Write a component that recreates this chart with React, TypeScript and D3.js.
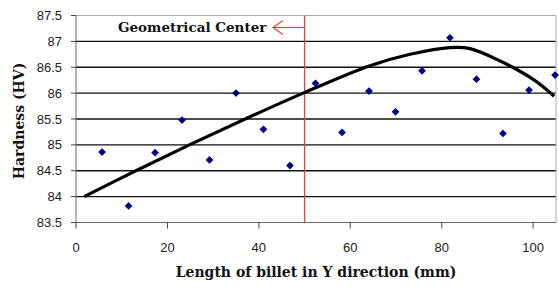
import React from 'react';
import * as d3 from 'd3';

// measured hardness along the billet
const posX = [5.7, 11.5, 17.3, 23.2, 29.2, 35, 41, 46.8, 52.4, 58.2, 64.1, 69.9, 75.7, 81.8, 87.6, 93.4, 99.1, 104.8];
const hardness = [84.86, 83.82, 84.85, 85.48, 84.71, 86.0, 85.3, 84.6, 86.19, 85.24, 86.04, 85.64, 86.43, 87.07, 86.27, 85.22, 86.06, 86.35];

// fitted trend curve
const trendX = [1.8, 13.1, 24.8, 37, 49.7, 64.3, 73.1, 81.8, 86.2, 92.8, 100.1, 104.6];
const trendY = [84.0, 84.5, 85.0, 85.5, 86.0, 86.53, 86.75, 86.88, 86.86, 86.62, 86.26, 85.94];

const xTicks = [0, 20, 40, 60, 80, 100];
const yTicks = [83.5, 84, 84.5, 85, 85.5, 86, 86.5, 87, 87.5];
const centerX = 50;

const W = 559;
const H = 289;
const left = 76, right = 556, top = 15.5, bottom = 222.5;

const App = () => {
    const x = d3.scaleLinear().domain([0, 105]).range([left, right]);
    const y = d3.scaleLinear().domain([83.5, 87.5]).range([bottom, top]);

    const line = d3
        .line<number>()
        .x((d, i) => x(trendX[i]))
        .y(d => y(d))
        .curve(d3.curveCatmullRom.alpha(0.5));

    const diamond = d3.symbol().type(d3.symbolSquare).size(30)();

    const serif = '"DejaVu Serif", serif';
    const sans = '"Liberation Sans", Arial, sans-serif';
    const red = '#f03c3c';

    return (
        <svg width={W} height={H} style={{ position: 'absolute', left: 0, top: 0 }}>
            <rect x={0} y={0} width={W} height={H} fill="white" />

            {/* gridlines */}
            {yTicks.slice(1, -1).map(t => (
                <line key={t} x1={left} x2={right} y1={y(t)} y2={y(t)} stroke="#111" strokeWidth={1.3} />
            ))}
            {/* frame */}
            <line x1={left} x2={right} y1={top} y2={top} stroke="#aaa" />
            <line x1={right} x2={right} y1={top} y2={bottom} stroke="#aaa" />
            <line x1={left} x2={left} y1={top} y2={bottom} stroke="#666" />
            <line x1={left} x2={right} y1={bottom} y2={bottom} stroke="#666" />

            {/* y ticks */}
            {yTicks.map(t => (
                <g key={t}>
                    <line x1={left - 5} x2={left} y1={y(t)} y2={y(t)} stroke="#444" />
                    <text x={62} y={y(t)} dy="0.35em" textAnchor="end" fontFamily={sans} fontSize={13} fill="#222">
                        {t}
                    </text>
                </g>
            ))}
            {/* x ticks */}
            {xTicks.map(t => (
                <g key={t}>
                    <line x1={x(t)} x2={x(t)} y1={bottom} y2={bottom + 6} stroke="#444" />
                    <text x={x(t)} y={252} textAnchor="middle" fontFamily={sans} fontSize={13} fill="#222">
                        {t}
                    </text>
                </g>
            ))}

            {/* geometrical center marker */}
            <line x1={x(centerX)} x2={x(centerX)} y1={top} y2={bottom} stroke={red} strokeWidth={1.3} />
            <line x1={273} x2={x(centerX)} y1={27.5} y2={27.5} stroke={red} strokeWidth={1.2} />
            <path d="M283,20.5 L273,27.5 L283,34.5" fill="none" stroke={red} strokeWidth={1.2} />
            <text x={118} y={32} fontFamily={serif} fontWeight="bold" fontSize={13.5} fill="#111">
                Geometrical Center
            </text>

            {/* trend curve */}
            <path d={line(trendY) || ''} fill="none" stroke="black" strokeWidth={3.2} />

            {/* points */}
            {hardness.map((v, i) => (
                <path key={i} d={diamond || ''} transform={`translate(${x(posX[i])},${y(v)}) rotate(45)`} fill="#000088" />
            ))}

            {/* axis titles */}
            <text
                transform="translate(24,121) rotate(-90)"
                textAnchor="middle"
                fontFamily={serif}
                fontWeight="bold"
                fontSize={14}
                fill="#111"
            >
                Hardness (HV)
            </text>
            <text x={(left + right) / 2} y={277} textAnchor="middle" fontFamily={serif} fontWeight="bold" fontSize={14} fill="#111">
                Length of billet in Y direction (mm)
            </text>
        </svg>
    );
};

export default App;
